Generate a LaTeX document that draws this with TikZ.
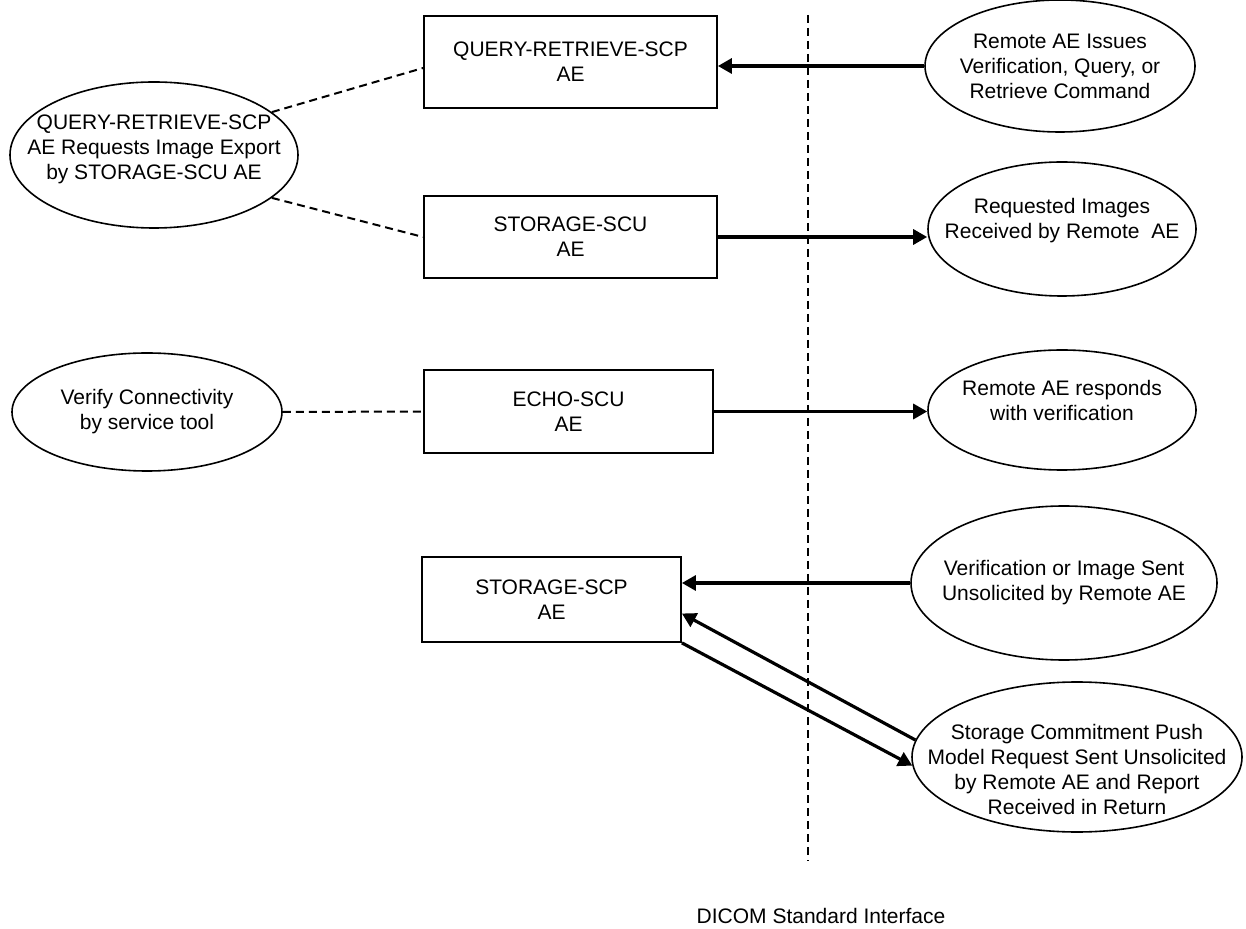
\documentclass[tikz,border=0pt]{standalone}
\usepackage{fontspec}
\setmainfont{Liberation Sans}
\usetikzlibrary{shapes.geometric,arrows.meta}

\begin{document}
\begin{tikzpicture}[x=0.5pt,y=-0.5pt,
  font=\fontsize{10.5}{12.5}\selectfont,
  aebox/.style={draw,line width=0.9pt,align=center,inner sep=0pt},
  oval/.style={draw,ellipse,line width=0.8pt,inner sep=0pt},
  link/.style={line width=1pt,dash pattern=on 4pt off 2.5pt},
  msg/.style={line width=1.6pt,-{Triangle[length=7pt,width=7.5pt]}}]
\useasboundingbox (0,0) rectangle (1246,929);

% application entities
\node[aebox,minimum width=146.5pt,minimum height=46pt] (qrscp) at (570.5,62) {QUERY-RETRIEVE-SCP\\AE};
\node[aebox,minimum width=146.5pt,minimum height=41pt] (stscu) at (570.5,237) {STORAGE-SCU\\AE};
\node[aebox,minimum width=144.5pt,minimum height=41.5pt] (echo) at (568.5,411.5) {ECHO-SCU\\AE};
\node[aebox,minimum width=129.5pt,minimum height=42.5pt] (stscp) at (551.5,599.5) {STORAGE-SCP\\AE};

% local real-world activities
\node[oval,minimum width=144pt,minimum height=73pt,
  label={[align=center,yshift=3pt]center:QUERY-RETRIEVE-SCP\\AE Requests Image Export\\by STORAGE-SCU AE}] (qrreq) at (154,155) {};
\node[oval,minimum width=135pt,minimum height=59pt,
  label={[align=center]center:Verify Connectivity\\by service tool}] (verify) at (147,412) {};

% remote real-world activities
\node[oval,minimum width=135pt,minimum height=66pt,
  label={[align=center]center:Remote AE Issues\\Verification, Query, or\\Retrieve Command}] (rmtcmd) at (1060,66) {};
\node[oval,minimum width=134pt,minimum height=67pt,
  label={[align=center,yshift=4pt]center:Requested Images\\Received by Remote~~AE}] (rmtrecv) at (1062,229) {};
\node[oval,minimum width=134pt,minimum height=60pt,
  label={[align=center,yshift=5pt]center:Remote AE responds\\with verification}] (rmtecho) at (1062,410) {};
\node[oval,minimum width=153pt,minimum height=77pt,
  label={[align=center]center:Verification or Image Sent\\Unsolicited by Remote AE}] (rmtsend) at (1064,583) {};
\node[oval,minimum width=165pt,minimum height=75pt,
  label={[align=center,yshift=-6pt]center:Storage Commitment Push\\Model Request Sent Unsolicited\\by Remote AE and Report\\Received in Return}] (rmtcmt) at (1077,757) {};

% DICOM interface
\coordinate (ifctop) at (808,15);
\coordinate (ifcbot) at (808,861);
\draw[link] (ifctop) -- (ifcbot);
\node[anchor=base] (ifc) at (821,923) {DICOM Standard Interface};

% associations
\draw[link] (qrreq.20) -- ([yshift=-3pt]qrscp.west);
\draw[link] (qrreq.-20) -- (stscu.west);
\draw[link] (verify.east) -- (echo.west);
\draw[msg] (rmtcmd.west) -- (rmtcmd.west -| qrscp.east);
\draw[msg] (stscu.east) -- (stscu.east -| rmtrecv.west);
\draw[msg] (echo.east) -- (echo.east -| rmtecho.west);
\draw[msg] (rmtsend.west) -- (rmtsend.west -| stscp.east);
\draw[msg] (rmtcmt.174) -- ([yshift=-7pt]stscp.east);
\draw[msg] (stscp.south east) -- (rmtcmt.183);
\end{tikzpicture}
\end{document}
